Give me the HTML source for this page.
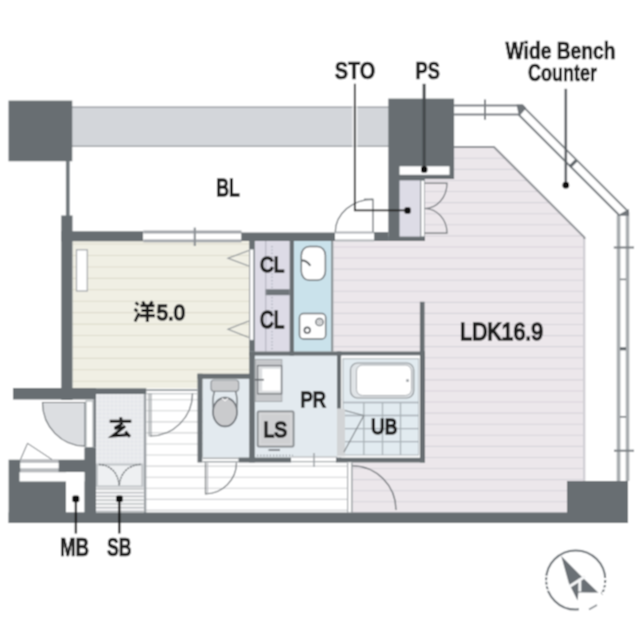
<!DOCTYPE html>
<html><head><meta charset="utf-8"><style>
html,body{margin:0;padding:0;background:#fff;}
svg{display:block;}
text{font-family:"Liberation Sans",sans-serif;fill:#1e1e1e;}
</style></head><body>
<svg width="640" height="640" viewBox="0 0 640 640">
<defs><filter id="soft" x="0" y="0" width="640" height="640" filterUnits="userSpaceOnUse"><feConvolveMatrix order="3" kernelMatrix="1 2 1 2 4 2 1 2 1" divisor="16" edgeMode="duplicate" preserveAlpha="true"/></filter></defs>
<g filter="url(#soft)">
<rect width="640" height="640" fill="#ffffff"/>
<clipPath id="ldk"><polygon points="333.6,241 424.8,241 424.8,179 454.1,179 454.1,147 494,147 584.4,237.4 584.4,513 352.3,513 352.3,462.5 425,462.5 425,351.5 333.6,351.5"/></clipPath>
<g clip-path="url(#ldk)">
<rect x="330.00" y="140.00" width="260.00" height="380.00" fill="#ece7eb" />
<line x1="330.00" y1="158.30" x2="590.00" y2="158.30" stroke="#d7d4da" stroke-width="1.1"/>
<line x1="330.00" y1="169.38" x2="590.00" y2="169.38" stroke="#d7d4da" stroke-width="1.1"/>
<line x1="330.00" y1="180.46" x2="590.00" y2="180.46" stroke="#d7d4da" stroke-width="1.1"/>
<line x1="330.00" y1="191.54" x2="590.00" y2="191.54" stroke="#d7d4da" stroke-width="1.1"/>
<line x1="330.00" y1="202.62" x2="590.00" y2="202.62" stroke="#d7d4da" stroke-width="1.1"/>
<line x1="330.00" y1="213.70" x2="590.00" y2="213.70" stroke="#d7d4da" stroke-width="1.1"/>
<line x1="330.00" y1="224.78" x2="590.00" y2="224.78" stroke="#d7d4da" stroke-width="1.1"/>
<line x1="330.00" y1="235.86" x2="590.00" y2="235.86" stroke="#d7d4da" stroke-width="1.1"/>
<line x1="330.00" y1="246.94" x2="590.00" y2="246.94" stroke="#d7d4da" stroke-width="1.1"/>
<line x1="330.00" y1="258.02" x2="590.00" y2="258.02" stroke="#d7d4da" stroke-width="1.1"/>
<line x1="330.00" y1="269.10" x2="590.00" y2="269.10" stroke="#d7d4da" stroke-width="1.1"/>
<line x1="330.00" y1="280.18" x2="590.00" y2="280.18" stroke="#d7d4da" stroke-width="1.1"/>
<line x1="330.00" y1="291.26" x2="590.00" y2="291.26" stroke="#d7d4da" stroke-width="1.1"/>
<line x1="330.00" y1="302.34" x2="590.00" y2="302.34" stroke="#d7d4da" stroke-width="1.1"/>
<line x1="330.00" y1="313.42" x2="590.00" y2="313.42" stroke="#d7d4da" stroke-width="1.1"/>
<line x1="330.00" y1="324.50" x2="590.00" y2="324.50" stroke="#d7d4da" stroke-width="1.1"/>
<line x1="330.00" y1="335.58" x2="590.00" y2="335.58" stroke="#d7d4da" stroke-width="1.1"/>
<line x1="330.00" y1="346.66" x2="590.00" y2="346.66" stroke="#d7d4da" stroke-width="1.1"/>
<line x1="330.00" y1="357.74" x2="590.00" y2="357.74" stroke="#d7d4da" stroke-width="1.1"/>
<line x1="330.00" y1="368.82" x2="590.00" y2="368.82" stroke="#d7d4da" stroke-width="1.1"/>
<line x1="330.00" y1="379.90" x2="590.00" y2="379.90" stroke="#d7d4da" stroke-width="1.1"/>
<line x1="330.00" y1="390.98" x2="590.00" y2="390.98" stroke="#d7d4da" stroke-width="1.1"/>
<line x1="330.00" y1="402.06" x2="590.00" y2="402.06" stroke="#d7d4da" stroke-width="1.1"/>
<line x1="330.00" y1="413.14" x2="590.00" y2="413.14" stroke="#d7d4da" stroke-width="1.1"/>
<line x1="330.00" y1="424.22" x2="590.00" y2="424.22" stroke="#d7d4da" stroke-width="1.1"/>
<line x1="330.00" y1="435.30" x2="590.00" y2="435.30" stroke="#d7d4da" stroke-width="1.1"/>
<line x1="330.00" y1="446.38" x2="590.00" y2="446.38" stroke="#d7d4da" stroke-width="1.1"/>
<line x1="330.00" y1="457.46" x2="590.00" y2="457.46" stroke="#d7d4da" stroke-width="1.1"/>
<line x1="330.00" y1="468.54" x2="590.00" y2="468.54" stroke="#d7d4da" stroke-width="1.1"/>
<line x1="330.00" y1="479.62" x2="590.00" y2="479.62" stroke="#d7d4da" stroke-width="1.1"/>
<line x1="330.00" y1="490.70" x2="590.00" y2="490.70" stroke="#d7d4da" stroke-width="1.1"/>
<line x1="330.00" y1="501.78" x2="590.00" y2="501.78" stroke="#d7d4da" stroke-width="1.1"/>
<line x1="330.00" y1="512.86" x2="590.00" y2="512.86" stroke="#d7d4da" stroke-width="1.1"/>
</g>
<line x1="584.2" y1="238" x2="584.2" y2="513" stroke="#d2d0d5" stroke-width="2.4"/>
<polyline points="454.1,147 494,147 584.4,237.4 584.4,239" fill="none" stroke="#8e9195" stroke-width="2"/>
<rect x="72.50" y="241.00" width="176.50" height="147.30" fill="#f0efe4" />
<line x1="72.50" y1="244.07" x2="249.00" y2="244.07" stroke="#dddccd" stroke-width="1.1"/>
<line x1="72.50" y1="255.50" x2="249.00" y2="255.50" stroke="#dddccd" stroke-width="1.1"/>
<line x1="72.50" y1="266.93" x2="249.00" y2="266.93" stroke="#dddccd" stroke-width="1.1"/>
<line x1="72.50" y1="278.36" x2="249.00" y2="278.36" stroke="#dddccd" stroke-width="1.1"/>
<line x1="72.50" y1="289.79" x2="249.00" y2="289.79" stroke="#dddccd" stroke-width="1.1"/>
<line x1="72.50" y1="301.22" x2="249.00" y2="301.22" stroke="#dddccd" stroke-width="1.1"/>
<line x1="72.50" y1="312.65" x2="249.00" y2="312.65" stroke="#dddccd" stroke-width="1.1"/>
<line x1="72.50" y1="324.08" x2="249.00" y2="324.08" stroke="#dddccd" stroke-width="1.1"/>
<line x1="72.50" y1="335.51" x2="249.00" y2="335.51" stroke="#dddccd" stroke-width="1.1"/>
<line x1="72.50" y1="346.94" x2="249.00" y2="346.94" stroke="#dddccd" stroke-width="1.1"/>
<line x1="72.50" y1="358.37" x2="249.00" y2="358.37" stroke="#dddccd" stroke-width="1.1"/>
<line x1="72.50" y1="369.80" x2="249.00" y2="369.80" stroke="#dddccd" stroke-width="1.1"/>
<line x1="72.50" y1="381.23" x2="249.00" y2="381.23" stroke="#dddccd" stroke-width="1.1"/>
<rect x="76.50" y="249.80" width="10.80" height="41.20" fill="#ffffff"  stroke="#a2a6a9" stroke-width="1.2"/>
<line x1="146.00" y1="399.70" x2="352.00" y2="399.70" stroke="#d2d3d5" stroke-width="1.1"/>
<line x1="146.00" y1="410.77" x2="352.00" y2="410.77" stroke="#d2d3d5" stroke-width="1.1"/>
<line x1="146.00" y1="421.84" x2="352.00" y2="421.84" stroke="#d2d3d5" stroke-width="1.1"/>
<line x1="146.00" y1="432.91" x2="352.00" y2="432.91" stroke="#d2d3d5" stroke-width="1.1"/>
<line x1="146.00" y1="443.98" x2="352.00" y2="443.98" stroke="#d2d3d5" stroke-width="1.1"/>
<line x1="146.00" y1="455.05" x2="352.00" y2="455.05" stroke="#d2d3d5" stroke-width="1.1"/>
<line x1="146.00" y1="466.12" x2="352.00" y2="466.12" stroke="#d2d3d5" stroke-width="1.1"/>
<line x1="146.00" y1="477.19" x2="352.00" y2="477.19" stroke="#d2d3d5" stroke-width="1.1"/>
<line x1="146.00" y1="488.26" x2="352.00" y2="488.26" stroke="#d2d3d5" stroke-width="1.1"/>
<line x1="146.00" y1="499.33" x2="352.00" y2="499.33" stroke="#d2d3d5" stroke-width="1.1"/>
<line x1="146.00" y1="510.40" x2="352.00" y2="510.40" stroke="#d2d3d5" stroke-width="1.1"/>
<rect x="254.50" y="241.00" width="35.50" height="110.50" fill="#dddbe6" />
<rect x="293.70" y="241.00" width="37.30" height="110.50" fill="#cae2eb" />
<line x1="332.20" y1="241.00" x2="332.20" y2="351.50" stroke="#8e9599" stroke-width="2.4"/>
<rect x="202.50" y="378.70" width="46.50" height="78.80" fill="#e3eaef" />
<rect x="254.00" y="355.50" width="83.50" height="102.00" fill="#e3eaef" />
<rect x="96.00" y="393.80" width="47.80" height="120.00" fill="#e4e6ea" />
<path d="M98.0,393.8V487M102.0,393.8V487M106.0,393.8V487M110.0,393.8V487M114.0,393.8V487M118.0,393.8V487M122.0,393.8V487M126.0,393.8V487M130.0,393.8V487M134.0,393.8V487M138.0,393.8V487M142.0,393.8V487M96,395.8H143.8M96,399.8H143.8M96,403.8H143.8M96,407.8H143.8M96,411.8H143.8M96,415.8H143.8M96,419.8H143.8M96,423.8H143.8M96,427.8H143.8M96,431.8H143.8M96,435.8H143.8M96,439.8H143.8M96,443.8H143.8M96,447.8H143.8M96,451.8H143.8M96,455.8H143.8M96,459.8H143.8M96,463.8H143.8" stroke="#eef0f2" stroke-width="0.9"/>
<rect x="72.00" y="106.50" width="317.00" height="40.50" fill="#d3d6da" />
<line x1="72.00" y1="107.20" x2="389.00" y2="107.20" stroke="#a4a8ac" stroke-width="1.5"/>
<line x1="72.00" y1="146.30" x2="389.00" y2="146.30" stroke="#a4a8ac" stroke-width="1.5"/>
<rect x="8.50" y="100.60" width="63.75" height="60.65" fill="#676e72" />
<rect x="65.90" y="161.00" width="3.80" height="55.00" fill="#737a7e" />
<rect x="61.25" y="215.50" width="11.25" height="184.50" fill="#676e72" />
<rect x="61.25" y="231.25" width="82.00" height="10.00" fill="#676e72" />
<rect x="143.25" y="231.25" width="98.25" height="10.00" fill="#ffffff" />
<line x1="143.25" y1="232.10" x2="241.50" y2="232.10" stroke="#a2a6aa" stroke-width="3"/>
<line x1="143.25" y1="240.90" x2="241.50" y2="240.90" stroke="#a2a6aa" stroke-width="2.8"/>
<line x1="194.80" y1="227.60" x2="194.80" y2="246.00" stroke="#8d9296" stroke-width="2.2"/>
<rect x="241.25" y="232.50" width="93.75" height="8.50" fill="#676e72" />
<rect x="335.00" y="231.50" width="39.10" height="10.00" fill="#ffffff" />
<line x1="335.00" y1="232.60" x2="374.10" y2="232.60" stroke="#b0b4b7" stroke-width="2"/>
<line x1="335.00" y1="240.40" x2="374.10" y2="240.40" stroke="#b0b4b7" stroke-width="2"/>
<rect x="374.10" y="232.10" width="14.20" height="8.90" fill="#676e72" />
<rect x="388.30" y="236.60" width="36.70" height="4.40" fill="#676e72" />
<rect x="388.30" y="98.60" width="65.80" height="80.40" fill="#676e72" />
<rect x="388.30" y="179.00" width="36.50" height="62.00" fill="#676e72" />
<rect x="399.50" y="166.30" width="50.00" height="8.50" fill="#ffffff" />
<rect x="399.50" y="180.40" width="20.50" height="56.20" fill="#dddce6" />
<rect x="420.90" y="180.40" width="3.70" height="56.20" fill="#ffffff"  stroke="#9aa0a4" stroke-width="0.8"/>
<path d="M424.6,183.2H447A22.4,25.3 0 0 1 424.6,208.5M424.6,233.1H447A22.4,24.6 0 0 0 424.6,208.5" fill="none" stroke="#6d7276" stroke-width="1.2"/>
<path d="M335.3,232A37.7,33 0 0 1 373,199.3V232" fill="none" stroke="#6d7276" stroke-width="1.3" />
<line x1="364.00" y1="199.30" x2="373.00" y2="199.30" stroke="#6d7276" stroke-width="1.3"/>
<path d="M454.1,105.4H522L628,211.4V480" fill="none" stroke="#7a7f83" stroke-width="2"/>
<path d="M454.1,114.5H518.5L618.5,214.5V480" fill="none" stroke="#7a7f83" stroke-width="2"/>
<rect x="616.70" y="215.50" width="3.70" height="265.50" fill="#a9adb0" />
<rect x="625.70" y="212.00" width="3.60" height="269.00" fill="#a9adb0" />
<polygon points="516.5,104.4 523,104.4 526.3,108 519,116.6" fill="#6f7579"/>
<polygon points="616.8,215.8 629,215.8 629,209" fill="#6f7579"/>
<line x1="485.00" y1="99.40" x2="485.00" y2="119.70" stroke="#7a7f83" stroke-width="2"/>
<line x1="569.80" y1="166.80" x2="576.30" y2="160.30" stroke="#62686c" stroke-width="3.2"/>
<line x1="613.80" y1="247.50" x2="634.00" y2="247.50" stroke="#7a7f83" stroke-width="2"/>
<line x1="620.00" y1="279.40" x2="626.00" y2="279.40" stroke="#6f7579" stroke-width="1.5"/>
<line x1="620.00" y1="348.80" x2="626.00" y2="348.80" stroke="#5d6367" stroke-width="3"/>
<line x1="620.00" y1="416.80" x2="626.00" y2="416.80" stroke="#6f7579" stroke-width="1.5"/>
<line x1="614.00" y1="450.70" x2="634.00" y2="450.70" stroke="#7a7f83" stroke-width="2"/>
<rect x="249.20" y="241.00" width="5.60" height="110.50" fill="#676e72" />
<rect x="250.00" y="249.50" width="3.30" height="90.50" fill="#ffffff"  stroke="#b8bcc0" stroke-width="0.6"/>
<rect x="265.00" y="289.30" width="24.70" height="5.90" fill="#6f767a" />
<rect x="289.70" y="241.00" width="4.20" height="114.60" fill="#676e72" />
<line x1="265.80" y1="241.00" x2="265.80" y2="351.50" stroke="#aeb0ba" stroke-width="1"/>
<path d="M272,246V288M272,297V350" stroke="#b0b2bd" stroke-width="1.6" stroke-dasharray="1.2,2.2"/>
<path d="M248.8,250.5L228,258.3L248.8,266M248.8,321L228,329.3L248.8,337.5" fill="none" stroke="#8a8f93" stroke-width="1.1"/>
<rect x="301.3" y="246.4" width="24.1" height="33.9" rx="8" ry="9" fill="#ffffff" stroke="#6f7478" stroke-width="1.5"/>
<path d="M301.2,260.5 Q306.5,259.8 310.3,265.8" fill="none" stroke="#55595c" stroke-width="1.9"/>
<rect x="299.5" y="313.5" width="26.2" height="25.5" rx="4" fill="#ffffff" stroke="#6f7478" stroke-width="1.5"/>
<circle cx="307.2" cy="330.2" r="2.8" fill="none" stroke="#4f5357" stroke-width="1.6"/>
<circle cx="319.5" cy="322" r="3.6" fill="none" stroke="#6d7276" stroke-width="1.5"/>
<circle cx="319.5" cy="322" r="1.5" fill="none" stroke="#8a8f93" stroke-width="0.9"/>
<rect x="249.20" y="351.50" width="175.80" height="4.10" fill="#676e72" />
<rect x="197.50" y="373.75" width="56.50" height="5.00" fill="#676e72" />
<rect x="197.50" y="373.75" width="5.00" height="88.75" fill="#676e72" />
<rect x="249.20" y="351.50" width="5.60" height="111.00" fill="#676e72" />
<rect x="202.50" y="457.50" width="36.00" height="5.00" fill="#ffffff" />
<line x1="202.50" y1="458.20" x2="238.50" y2="458.20" stroke="#a6aaad" stroke-width="1.4"/>
<line x1="202.50" y1="461.80" x2="238.50" y2="461.80" stroke="#a6aaad" stroke-width="1.4"/>
<rect x="238.50" y="457.50" width="52.70" height="5.00" fill="#676e72" />
<rect x="211" y="380" width="27.7" height="11.3" rx="3" fill="#c9cacc" stroke="#8d9195" stroke-width="1.2"/>
<ellipse cx="225" cy="412" rx="12" ry="14.4" fill="#cacbcd" stroke="#666b70" stroke-width="1.6"/>
<path d="M214.5,391.3 C213,396 212.5,402 213.2,408 M235.5,391.3 C237,396 237.5,402 236.8,408" fill="none" stroke="#6f7478" stroke-width="1.4"/>
<path d="M222,398 L225,401 L228,398" fill="none" stroke="#ffffff" stroke-width="1"/>
<path d="M205.5,462.5V493.8A31,31.3 0 0 0 236.5,462.5" fill="none" stroke="#6d7276" stroke-width="1.2"/>
<line x1="207.50" y1="462.50" x2="207.50" y2="493.50" stroke="#b5b9bc" stroke-width="1.2"/>
<rect x="255.2" y="359.5" width="26.6" height="42" fill="#c6c8cb" stroke="#a3a7aa" stroke-width="1"/>
<rect x="257.60" y="365.60" width="24.00" height="28.20" fill="#dcdee0"  stroke="#75797d" stroke-width="1.3"/>
<rect x="262.20" y="368.70" width="18.10" height="22.00" fill="#ffffff" />
<line x1="254.80" y1="379.70" x2="264.00" y2="379.70" stroke="#5f6468" stroke-width="1.5"/>
<rect x="257.6" y="411.3" width="36" height="35.4" rx="1.2" fill="#cfd0d2" stroke="#868a8e" stroke-width="1.8"/>
<rect x="260" y="413.6" width="31.2" height="30.8" fill="none" stroke="#dcdddf" stroke-width="1"/>
<line x1="268.50" y1="450.00" x2="280.00" y2="450.00" stroke="#7a7e82" stroke-width="1.8"/>
<path d="M257,455.5H293" stroke="#8d9195" stroke-width="1.6" stroke-dasharray="1.2,2"/>
<rect x="291.20" y="456.60" width="45.80" height="5.40" fill="#ffffff" />
<line x1="291.20" y1="457.00" x2="337.00" y2="457.00" stroke="#a6aaad" stroke-width="1.2"/>
<line x1="291.20" y1="461.60" x2="337.00" y2="461.60" stroke="#a6aaad" stroke-width="1.2"/>
<line x1="314.00" y1="453.00" x2="314.00" y2="467.00" stroke="#9a9ea2" stroke-width="1.4"/>
<rect x="337.00" y="351.50" width="4.30" height="57.20" fill="#676e72" />
<rect x="420.00" y="351.50" width="5.00" height="111.00" fill="#676e72" />
<rect x="419.90" y="301.80" width="4.70" height="50.20" fill="#676e72" />
<rect x="336.00" y="457.50" width="89.00" height="5.00" fill="#676e72" />
<rect x="341.30" y="355.60" width="78.70" height="101.90" fill="#ffffff" />
<rect x="343.00" y="358.70" width="75.70" height="96.30" fill="#e2ebf0"  stroke="#b7bec2" stroke-width="1.2"/>
<rect x="350.5" y="363" width="63.2" height="35" rx="7" fill="#e0e4e7" stroke="#8f9498" stroke-width="1.2"/>
<rect x="356.5" y="365" width="55" height="30.5" rx="6" fill="#ffffff" stroke="#a6abaf" stroke-width="1"/>
<circle cx="407.5" cy="380.5" r="1.5" fill="#9ba0a4"/>
<path d="M363.8,402V455M382.5,402V455M400.5,402V455M343,402.5H418.7M343,415.5H418.7M343,428.6H418.7M343,441.6H418.7" stroke="#a9b1b6" stroke-width="1.3"/>
<rect x="337.00" y="408.70" width="8.00" height="47.60" fill="#d2d4d6" />
<path d="M345,410.5L363.8,415.5L344,452" fill="none" stroke="#7d8286" stroke-width="1.1"/>
<rect x="13.00" y="388.00" width="83.00" height="11.50" fill="#676e72" />
<rect x="90.00" y="388.30" width="56.30" height="5.70" fill="#676e72" />
<line x1="146.00" y1="390.20" x2="197.50" y2="390.20" stroke="#959a9e" stroke-width="1.8"/>
<line x1="146.00" y1="393.70" x2="197.50" y2="393.70" stroke="#b4b8bb" stroke-width="1.1"/>
<rect x="143.80" y="393.80" width="2.50" height="120.00" fill="#9ca1a5" />
<path d="M149,393.5V436.5M151,393.5V436.5" stroke="#8f9498" stroke-width="1"/>
<path d="M150,436A42.5,42.5 0 0 0 192.5,393.5" fill="none" stroke="#6d7276" stroke-width="1.2"/>
<rect x="347.20" y="462.50" width="5.10" height="50.00" fill="#ffffff" />
<line x1="347.60" y1="462.50" x2="347.60" y2="512.50" stroke="#a3a7aa" stroke-width="1.2"/>
<line x1="351.90" y1="462.50" x2="351.90" y2="512.50" stroke="#8e9296" stroke-width="1.3"/>
<path d="M352.3,465.8A43.7,44.2 0 0 1 396,510" fill="none" stroke="#6d7276" stroke-width="1.3"/>
<rect x="97.00" y="464.50" width="45.30" height="22.00" fill="#eef0f2"  stroke="#c0c4c7" stroke-width="2"/>
<path d="M99,464.3Q117,466 119.2,485.5M140.7,464.3Q121.5,466 119.2,485.5" fill="none" stroke="#5f6468" stroke-width="1.3" stroke-dasharray="2.2,0.8"/>
<rect x="96.00" y="487.50" width="47.80" height="26.30" fill="#f5f5f6" />
<line x1="96.00" y1="488.80" x2="143.80" y2="488.80" stroke="#b8bbbe" stroke-width="1.3"/>
<line x1="96.00" y1="492.55" x2="143.80" y2="492.55" stroke="#b8bbbe" stroke-width="1.3"/>
<line x1="96.00" y1="496.30" x2="143.80" y2="496.30" stroke="#b8bbbe" stroke-width="1.3"/>
<line x1="96.00" y1="500.05" x2="143.80" y2="500.05" stroke="#b8bbbe" stroke-width="1.3"/>
<line x1="96.00" y1="503.80" x2="143.80" y2="503.80" stroke="#b8bbbe" stroke-width="1.3"/>
<line x1="96.00" y1="507.55" x2="143.80" y2="507.55" stroke="#b8bbbe" stroke-width="1.3"/>
<line x1="96.00" y1="511.30" x2="143.80" y2="511.30" stroke="#b8bbbe" stroke-width="1.3"/>
<path d="M85,402.5H42.5A42.5,43.7 0 0 0 85,446.2Z" fill="#dcdee1" stroke="#6d7276" stroke-width="1.2"/>
<rect x="86.00" y="401.00" width="7.00" height="46.50" fill="#ffffff"  stroke="#9ea3a7" stroke-width="1"/>
<rect x="93.50" y="399.00" width="2.50" height="48.50" fill="#767c80" />
<rect x="84.40" y="447.50" width="11.60" height="75.50" fill="#676e72" />
<rect x="8.60" y="459.70" width="87.40" height="63.30" fill="#676e72" />
<rect x="20.30" y="459.70" width="38.30" height="12.50" fill="#b7babd" />
<rect x="20.30" y="462.80" width="38.30" height="5.50" fill="#ffffff" />
<rect x="19.50" y="472.20" width="64.90" height="9.30" fill="#ffffff" />
<rect x="66.00" y="472.20" width="18.40" height="40.40" fill="#ffffff" />
<path d="M20.5,459.5L27.5,443.3L52,459.5" fill="none" stroke="#6d7276" stroke-width="1"/>
<rect x="8.60" y="512.50" width="558.40" height="10.50" fill="#676e72" />
<rect x="567.00" y="481.00" width="61.00" height="42.00" fill="#676e72" />
<path d="M354.8,105V148" stroke="#ffffff" stroke-opacity="0.65" stroke-width="5.5"/>
<path d="M354.8,83.8V210.3H407.7" fill="none" stroke="#1e1e1e" stroke-width="1.8"/>
<rect x="404.4" y="207.3" width="6.3" height="6.5" rx="1.8" fill="#111"/>
<path d="M424.1,83.8V169.6" fill="none" stroke="#44494c" stroke-width="3"/>
<rect x="421" y="166.3" width="6.4" height="6.4" rx="2" fill="#111"/>
<path d="M565.8,88.8V185" fill="none" stroke="#5c6165" stroke-width="2.6"/>
<circle cx="565.8" cy="185.2" r="3.4" fill="#111"/>
<path d="M75.9,498.7V533.6M119.3,498.7V533.6" fill="none" stroke="#161616" stroke-width="2.3"/>
<rect x="72.3" y="495.6" width="7" height="6.6" rx="1.8" fill="#111"/><rect x="116.1" y="495.4" width="6.6" height="6.5" rx="1.5" fill="#111"/>
<circle cx="575.7" cy="580" r="29.6" fill="none" stroke="#6b7176" stroke-width="2"/>
<path d="M543,576.5h6M543,581h6M543,585.5h6M543,590h6" stroke="#ffffff" stroke-width="1.6"/>
<path d="M602,579h8M602,584h8M602,588.5h8M602,593h8" stroke="#ffffff" stroke-width="1.8"/>
<polygon points="561.2,556.1 580,575 599,593.3 578.5,592.5 577.5,600.5 568.8,583" fill="#6a7075"/>
<path d="M569.5,586.5L585,576.5M579.8,578.5V591.5" stroke="#f4f5f6" stroke-width="3" fill="none"/>
<polygon points="578.8,592.8 600.5,592.5 604,597 596,607 588,612 578.8,612" fill="#ffffff"/>
<path d="M589,609.5L597,605" stroke="#8a8f93" stroke-width="1.6"/>
<text x="334.70" y="79.00" font-size="23.88" font-weight="bold" textLength="40.60" lengthAdjust="spacingAndGlyphs" stroke="#1e1e1e" stroke-width="0.7">STO</text>
<text x="415.60" y="79.00" font-size="23.88" font-weight="bold" textLength="24.30" lengthAdjust="spacingAndGlyphs" stroke="#1e1e1e" stroke-width="0.7">PS</text>
<text x="505.60" y="58.70" font-size="23.88" font-weight="bold" textLength="109.90" lengthAdjust="spacingAndGlyphs" stroke="#1e1e1e" stroke-width="0.7">Wide Bench</text>
<text x="528.10" y="81.40" font-size="23.88" font-weight="bold" textLength="69.00" lengthAdjust="spacingAndGlyphs" stroke="#1e1e1e" stroke-width="0.7">Counter</text>
<text x="216.30" y="196.00" font-size="23.88" font-weight="normal" textLength="23.20" lengthAdjust="spacingAndGlyphs" stroke="#1e1e1e" stroke-width="1.7">BL</text>
<text x="156.80" y="320.30" font-size="22.00" font-weight="normal" textLength="28.20" lengthAdjust="spacingAndGlyphs" stroke="#1e1e1e" stroke-width="1.7">5.0</text>
<text x="260.10" y="272.20" font-size="22.00" font-weight="normal" textLength="24.10" lengthAdjust="spacingAndGlyphs" stroke="#1e1e1e" stroke-width="1.7">CL</text>
<text x="260.10" y="327.80" font-size="23.88" font-weight="normal" textLength="24.10" lengthAdjust="spacingAndGlyphs" stroke="#1e1e1e" stroke-width="1.7">CL</text>
<text x="460.10" y="339.80" font-size="23.88" font-weight="normal" textLength="83.00" lengthAdjust="spacingAndGlyphs" stroke="#1e1e1e" stroke-width="1.7">LDK16.9</text>
<text x="300.40" y="407.20" font-size="22.00" font-weight="normal" textLength="25.50" lengthAdjust="spacingAndGlyphs" stroke="#1e1e1e" stroke-width="1.7">PR</text>
<text x="263.50" y="436.90" font-size="22.00" font-weight="normal" textLength="23.50" lengthAdjust="spacingAndGlyphs" stroke="#1e1e1e" stroke-width="1.7">LS</text>
<text x="371.10" y="433.50" font-size="22.00" font-weight="normal" textLength="26.10" lengthAdjust="spacingAndGlyphs" stroke="#1e1e1e" stroke-width="1.7">UB</text>
<text x="59.90" y="556.00" font-size="25.75" font-weight="bold" textLength="29.20" lengthAdjust="spacingAndGlyphs" stroke="#1e1e1e" stroke-width="0.7">MB</text>
<text x="106.90" y="556.00" font-size="25.75" font-weight="bold" textLength="24.60" lengthAdjust="spacingAndGlyphs" stroke="#1e1e1e" stroke-width="0.7">SB</text>
<g stroke="#161616" stroke-width="2.9" fill="none" stroke-linecap="butt"><path d="M135.5,302.5L138.5,305M134.5,309L137.5,311.3M135,321.5L139,313"/><path d="M142.5,301.5L144.5,304.5M152.5,301.5L150,304.5M140.5,305.8H154.5M141.5,310.5H153.5M139.5,315.8H155M147.3,305.8V322"/></g>
<g stroke="#161616" stroke-width="2.9" fill="none" stroke-linejoin="miter"><path d="M120.6,417.2L121.2,420.8M109.7,421.3H131.3"/><path d="M122.8,423.2L114.6,428.3L123,427.6"/><path d="M125.2,426.2L112.5,436L128,434.8"/><path d="M125.3,431.5L130,436.8"/></g>
</g>
</svg>
</body></html>
